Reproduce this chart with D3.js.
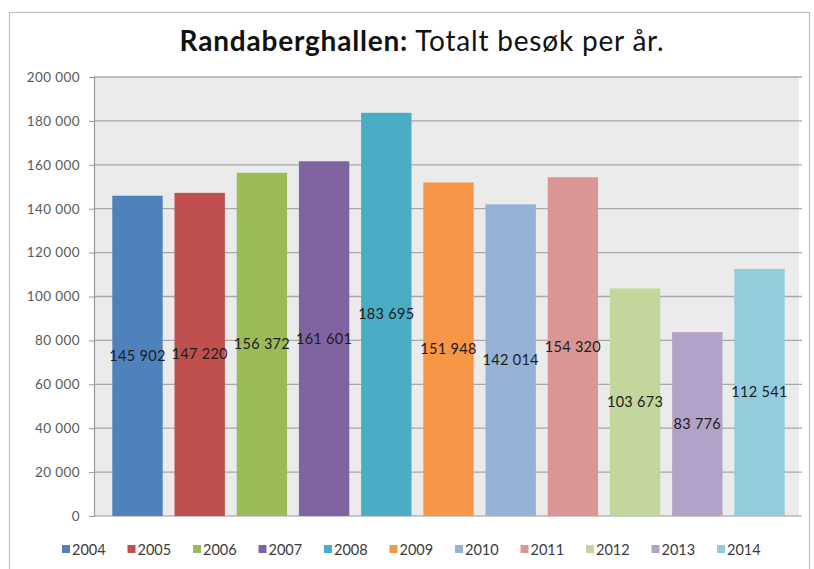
<!DOCTYPE html>
<html>
<head>
<meta charset="utf-8">
<script src="https://cdn.jsdelivr.net/npm/d3@7"></script>
<style>
  html, body { margin: 0; padding: 0; background: #ffffff; }
  svg { display: block; }
  text { font-family: Lato, "Open Sans", sans-serif; }
</style>
</head>
<body>
<svg id="chart" width="814" height="569"></svg>
<script>
const years = ["2004","2005","2006","2007","2008","2009","2010","2011","2012","2013","2014"];
const visits = [145902, 147220, 156372, 161601, 183695, 151948, 142014, 154320, 103673, 83776, 112541];
const colors = ["#4F81BD","#C0504D","#9BBB59","#8064A2","#4BACC6","#F79646","#95B3D7","#D99694","#C3D69B","#B3A2C7","#93CDDD"];
const yTicks = [0, 20000, 40000, 60000, 80000, 100000, 120000, 140000, 160000, 180000, 200000];
const titleBold = "Randaberghallen:";
const titleRest = " Totalt besøk per år.";

const svg = d3.select("#chart");
const plot = {left: 94, right: 799, top: 77, bottom: 516};

const fmtLabel = d3.formatLocale({decimal: ",", thousands: " ", grouping: [3], currency: ["", ""]}).format(",d");

// outer chart border
svg.append("rect")
  .attr("x", 9.5).attr("y", 12.5)
  .attr("width", 800).attr("height", 570)
  .attr("fill", "#ffffff").attr("stroke", "#bfbfbf").attr("stroke-width", 1.2);

// title
const title = svg.append("text")
  .attr("x", 422).attr("y", 51)
  .attr("text-anchor", "middle")
  .attr("font-size", 28)
  .attr("letter-spacing", 0.8)
  .attr("fill", "#111");
title.append("tspan").attr("font-weight", "bold").text(titleBold);
title.append("tspan").text(titleRest);

const x = d3.scaleBand().domain(years).range([106.4, 790.6]).paddingInner(0.19).paddingOuter(0.095);
const y = d3.scaleLinear().domain([0, 200000]).range([plot.bottom, plot.top]);

// plot area background
svg.append("rect")
  .attr("x", plot.left).attr("y", plot.top)
  .attr("width", plot.right - plot.left).attr("height", plot.bottom - plot.top)
  .attr("fill", "#ebebeb");

// gridlines
svg.append("g")
  .selectAll("line").data(yTicks.filter(d => d > 0)).join("line")
  .attr("x1", plot.left).attr("x2", plot.right + 3)
  .attr("y1", d => y(d)).attr("y2", d => y(d))
  .attr("stroke", "#a8a8a8").attr("stroke-width", 1.3);

// y axis
const yAxis = svg.append("g")
  .attr("transform", `translate(${plot.left},0)`)
  .call(d3.axisLeft(y).tickValues(yTicks).tickSize(5).tickPadding(9).tickFormat(fmtLabel));
yAxis.select(".domain").attr("stroke", "#9a9a9a").attr("stroke-width", 1.2);
yAxis.selectAll(".tick line").attr("stroke", "#9a9a9a");
yAxis.selectAll(".tick text")
  .attr("font-family", "Lato, sans-serif")
  .attr("font-size", 13.5)
  .attr("letter-spacing", 0.4)
  .attr("fill", "#5a5a5a");

// x axis line
svg.append("line")
  .attr("x1", plot.left).attr("x2", plot.right + 3)
  .attr("y1", plot.bottom).attr("y2", plot.bottom)
  .attr("stroke", "#9a9a9a").attr("stroke-width", 1.2);

// bars
svg.append("g")
  .selectAll("rect").data(years).join("rect")
  .attr("x", d => x(d))
  .attr("width", x.bandwidth())
  .attr("y", (d, i) => y(visits[i]))
  .attr("height", (d, i) => y(0) - y(visits[i]))
  .attr("fill", (d, i) => colors[i]);

// data labels (centered)
svg.append("g")
  .selectAll("text").data(years).join("text")
  .attr("x", d => x(d) + x.bandwidth() / 2)
  .attr("y", (d, i) => y(visits[i] / 2) + 5)
  .attr("text-anchor", "middle")
  .attr("font-size", 14.5)
  .attr("letter-spacing", 0.3)
  .attr("fill", "#1c1c1c")
  .text((d, i) => fmtLabel(visits[i]));

// legend
const legend = svg.append("g");
const legStart = 62, legStep = 65.5, legY = 550;
const item = legend.selectAll("g").data(years).join("g")
  .attr("transform", (d, i) => `translate(${legStart + i * legStep},${legY})`);
item.append("rect")
  .attr("x", 0).attr("y", -5).attr("width", 8).attr("height", 8)
  .attr("fill", (d, i) => colors[i]);
item.append("text")
  .attr("x", 10).attr("y", 4.5)
  .attr("font-size", 14.5)
  .attr("fill", "#3a3a3a")
  .text(d => d);
</script>
</body>
</html>
